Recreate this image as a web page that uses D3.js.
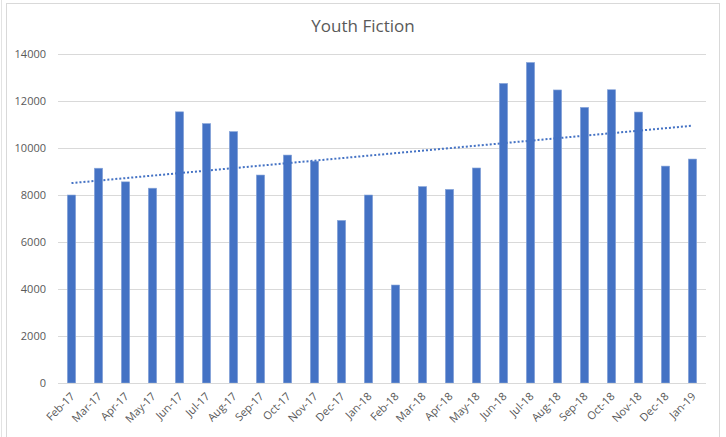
<!DOCTYPE html>
<html><head><meta charset="utf-8">
<script src="https://cdn.jsdelivr.net/npm/d3@7"></script>
<style>
html,body{margin:0;padding:0;background:#fff;}
svg{display:block;}
text{font-family:"Open Sans",sans-serif;}
</style></head>
<body><svg id="c" width="726" height="437"></svg>
<script>
const title = "Youth Fiction";
const categories = ["Feb-17","Mar-17","Apr-17","May-17","Jun-17","Jul-17","Aug-17","Sep-17","Oct-17","Nov-17","Dec-17","Jan-18","Feb-18","Mar-18","Apr-18","May-18","Jun-18","Jul-18","Aug-18","Sep-18","Oct-18","Nov-18","Dec-18","Jan-19"];
const values = [8000,9140,8560,8290,11540,11040,10700,8850,9700,9440,6920,8000,4170,8360,8240,9150,12750,13640,12470,11730,12480,11530,9230,9530];
const yTicks = [0,2000,4000,6000,8000,10000,12000,14000];

const svg = d3.select("#c");
const W = 726, H = 437;
const x0 = 58, x1 = 706, yTop = 54, yBot = 383;

// chart border
svg.append("rect").attr("x",6.5).attr("y",3.5).attr("width",713).attr("height",440)
  .attr("fill","none").attr("stroke","#d9d9d9").attr("stroke-width",1);
svg.append("line").attr("x1",1.5).attr("x2",1.5).attr("y1",0).attr("y2",H).attr("stroke","#e3e3e3");

const x = d3.scaleBand().domain(categories).range([x0,x1]).paddingInner(0.69).paddingOuter(0.345);
const y = d3.scaleLinear().domain([0,14000]).range([yBot,yTop]);

// gridlines
svg.append("g").selectAll("line").data(yTicks.filter(d=>d>0)).join("line")
  .attr("x1",x0).attr("x2",x1).attr("y1",d=>Math.round(y(d))+0.5).attr("y2",d=>Math.round(y(d))+0.5)
  .attr("stroke","#d9d9d9").attr("stroke-width",1);

// y axis labels
const yAxis = d3.axisLeft(y).tickValues(yTicks).tickSize(0).tickPadding(12).tickFormat(d3.format("d"));
const ga = svg.append("g").attr("transform",`translate(${x0},0)`).call(yAxis);
ga.select(".domain").remove();
ga.selectAll("text").attr("fill","#595959").style("font-size","11px").style("font-family","'Open Sans',sans-serif");

// bars
svg.append("g").selectAll("rect").data(values).join("rect")
  .attr("x",(d,i)=>x(categories[i]))
  .attr("width",x.bandwidth())
  .attr("y",d=>y(d))
  .attr("height",d=>yBot-y(d))
  .attr("fill","#4472c4")
  .attr("stroke","#8eaadb").attr("stroke-width",0.6);

// x axis line
svg.append("line").attr("x1",x0).attr("x2",x1).attr("y1",yBot+0.5).attr("y2",yBot+0.5)
  .attr("stroke","#d9d9d9").attr("stroke-width",1);

// x axis labels
const xAxis = d3.axisBottom(x).tickSize(0).tickPadding(0);
const gx = svg.append("g").attr("transform",`translate(0,${yBot})`).call(xAxis);
gx.select(".domain").remove();
gx.selectAll("text").attr("fill","#595959").style("font-size","11px")
  .style("font-family","'Open Sans',sans-serif")
  .attr("text-anchor","end").attr("dy","0").attr("y",0)
  .attr("transform","translate(4,14) rotate(-45)");

// linear trendline (least squares)
const n = values.length;
const xs = d3.range(1,n+1);
const mx = d3.mean(xs), my = d3.mean(values);
const slope = d3.sum(xs,(xi,i)=>(xi-mx)*(values[i]-my)) / d3.sum(xs,xi=>(xi-mx)*(xi-mx));
const icpt = my - slope*mx;
const cx = c => x(c)+x.bandwidth()/2;
svg.append("line")
  .attr("x1",cx(categories[0])).attr("y1",y(icpt+slope*1))
  .attr("x2",cx(categories[n-1])).attr("y2",y(icpt+slope*n))
  .attr("stroke","#4472c4").attr("stroke-width",2).attr("stroke-dasharray","2,2");

// title
svg.append("text").attr("x",363).attr("y",32).attr("text-anchor","middle")
  .attr("fill","#595959").style("font-size","17px").text(title);
</script></body></html>
